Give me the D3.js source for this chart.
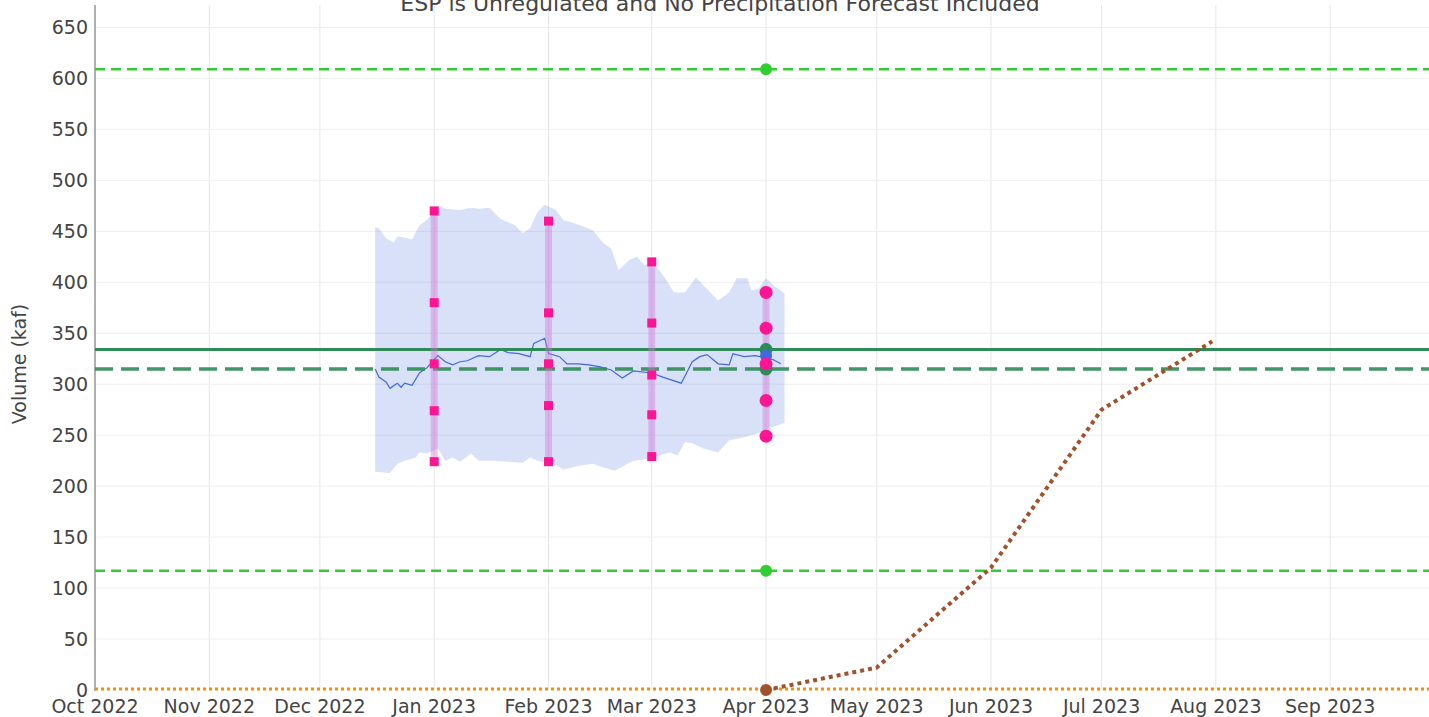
<!DOCTYPE html>
<html>
<head>
<meta charset="utf-8">
<script src="https://cdn.jsdelivr.net/npm/d3@7"></script>
<style>
  body { margin: 0; background: #fff; }
  #grafico { width: 1429px; height: 717px; overflow: hidden; }
  text { font-family: "DejaVu Sans", sans-serif; fill: #444; }
</style>
</head>
<body>
<div id="grafico"></div>
<script>
// textos
const titulo = "ESP is Unregulated and No Precipitation Forecast Included";
const etiquetaY = "Volume (kaf)";
const ticksY = [0, 50, 100, 150, 200, 250, 300, 350, 400, 450, 500, 550, 600, 650];

// banda ESP (limite superior)
const fechasSup = ["2022-12-16","2022-12-17","2022-12-19","2022-12-21","2022-12-22","2022-12-24","2022-12-26","2022-12-28","2022-12-30","2023-01-01","2023-01-02","2023-01-04","2023-01-08","2023-01-11","2023-01-13","2023-01-16","2023-01-19","2023-01-23","2023-01-25","2023-01-27","2023-01-29","2023-01-31","2023-02-03","2023-02-05","2023-02-08","2023-02-11","2023-02-13","2023-02-16","2023-02-18","2023-02-20","2023-02-23","2023-02-25","2023-02-27","2023-03-01","2023-03-03","2023-03-05","2023-03-07","2023-03-10","2023-03-13","2023-03-15","2023-03-19","2023-03-22","2023-03-24","2023-03-27","2023-03-28","2023-03-30","2023-04-01","2023-04-03","2023-04-06"];
const valoresSup = [454,453,443,439,445,444,442,456,461,470,475,472,471,473,472,473,462,456,448,453,469,476,471,461,458,454,451,438,433,412,422,425,417,420,412,402,390,390,405,397,382,390,404,404,392,394,404,397,389];

// banda ESP (limite inferior)
const fechasInf = ["2022-12-16","2022-12-20","2022-12-22","2022-12-24","2022-12-27","2022-12-28","2022-12-30","2023-01-02","2023-01-04","2023-01-06","2023-01-08","2023-01-11","2023-01-13","2023-01-17","2023-01-21","2023-01-25","2023-01-27","2023-01-29","2023-02-03","2023-02-05","2023-02-08","2023-02-11","2023-02-13","2023-02-16","2023-02-19","2023-02-21","2023-02-24","2023-03-01","2023-03-03","2023-03-06","2023-03-08","2023-03-10","2023-03-12","2023-03-15","2023-03-19","2023-03-22","2023-03-26","2023-03-30","2023-04-02","2023-04-06"];
const valoresInf = [214,213,222,225,228,233,232,237,225,228,224,232,225,225,224,223,228,225,221,216,219,221,222,218,215,219,225,227,230,233,230,243,242,237,233,245,248,252,257,262];

// mediana ESP
const fechasMed = ["2022-12-16","2022-12-17","2022-12-19","2022-12-20","2022-12-22","2022-12-23","2022-12-24","2022-12-26","2022-12-28","2022-12-30","2023-01-02","2023-01-04","2023-01-06","2023-01-08","2023-01-10","2023-01-13","2023-01-16","2023-01-19","2023-01-21","2023-01-24","2023-01-27","2023-01-28","2023-01-31","2023-02-01","2023-02-04","2023-02-06","2023-02-09","2023-02-12","2023-02-15","2023-02-18","2023-02-21","2023-02-24","2023-03-01","2023-03-04","2023-03-09","2023-03-12","2023-03-14","2023-03-16","2023-03-19","2023-03-22","2023-03-23","2023-03-26","2023-03-29","2023-04-01","2023-04-03","2023-04-05"];
const valoresMed = [315,307,302,296,301,297,301,299,311,316,328,322,319,322,323,328,327,334,331,330,327,340,345,330,327,320,320,319,317,314,306,313,311,307,301,322,327,329,320,319,330,327,328,326,324,320];

// pronosticos mensuales (cuantiles)
const fechasPron = ["2023-01-01","2023-02-01","2023-03-01","2023-04-01"];
const cuantilesPron = [
  [470, 380, 320, 274, 224],
  [460, 370, 320, 279, 224],
  [420, 360, 309, 270, 229],
  [390, 355, 320, 284, 249]
];

// referencias horizontales
const limitesVerdes = [609, 117];
const promedio = 334;
const mediana = 315;
const fechaActual = "2023-04-01";
const valorActual = 328;

// acumulado historico
const fechasAcum = ["2023-04-01","2023-05-01","2023-06-01","2023-07-01","2023-07-31"];
const valoresAcum = [0, 22, 120, 275, 342];

const parse = d3.timeParse("%Y-%m-%d");

function dibujar() {
    const width = 1429, height = 717;
    const svg = d3.select("#grafico").append("svg")
        .attr("width", width)
        .attr("height", height);

    const x = d3.scaleTime()
        .domain([parse("2022-10-01"), parse("2023-10-01")])
        .range([95, 1440.8]);
    const y = d3.scaleLinear()
        .domain([0, 672])
        .range([690, 5]);

    // rejilla
    const meses = d3.timeMonth.range(parse("2022-10-01"), parse("2023-10-01"));
    svg.append("g").selectAll("line")
        .data(meses).enter().append("line")
        .attr("x1", d => x(d)).attr("x2", d => x(d))
        .attr("y1", 5).attr("y2", 690)
        .attr("stroke", "#e6e6e6").attr("stroke-width", 1);
    svg.append("g").selectAll("line")
        .data(ticksY.slice(1)).enter().append("line")
        .attr("x1", 95).attr("x2", width)
        .attr("y1", d => y(d)).attr("y2", d => y(d))
        .attr("stroke", "#eeeeee").attr("stroke-width", 1);

    // eje y
    svg.append("line")
        .attr("x1", 95).attr("x2", 95)
        .attr("y1", 5).attr("y2", 691)
        .attr("stroke", "#999").attr("stroke-width", 1.5);
    svg.append("g").selectAll("text")
        .data(ticksY).enter().append("text")
        .attr("x", 88).attr("y", d => y(d))
        .attr("dy", "0.36em")
        .attr("text-anchor", "end")
        .style("font-size", "19px")
        .text(d => d);

    // eje x
    svg.append("g").selectAll("text")
        .data(meses).enter().append("text")
        .attr("x", d => x(d)).attr("y", 713)
        .attr("text-anchor", "middle")
        .style("font-size", "19px")
        .text(d => d3.timeFormat("%b %Y")(d));

    svg.append("text")
        .attr("transform", "translate(26,364) rotate(-90)")
        .attr("text-anchor", "middle")
        .style("font-size", "19px")
        .text(etiquetaY);

    svg.append("text")
        .attr("x", 720).attr("y", 11)
        .attr("text-anchor", "middle")
        .style("font-size", "22px")
        .text(titulo);

    // banda
    const sup = fechasSup.map((f, i) => [x(parse(f)), y(valoresSup[i])]);
    const inf = fechasInf.map((f, i) => [x(parse(f)), y(valoresInf[i])]);
    svg.append("path")
        .attr("d", d3.line()(sup.concat(inf.reverse())) + "Z")
        .attr("fill", "#4169e1").attr("fill-opacity", 0.2);

    svg.append("path")
        .datum(fechasMed.map((f, i) => ({ f: parse(f), v: valoresMed[i] })))
        .attr("d", d3.line().x(d => x(d.f)).y(d => y(d.v)))
        .attr("fill", "none").attr("stroke", "#4169e1").attr("stroke-width", 1.2);

    // lineas de referencia
    const hasta = x.range()[1];
    svg.append("g").selectAll("line")
        .data(limitesVerdes).enter().append("line")
        .attr("x1", 95).attr("x2", hasta)
        .attr("y1", d => y(d)).attr("y2", d => y(d))
        .attr("stroke", "#32cd32").attr("stroke-width", 2.5)
        .attr("stroke-dasharray", "10,6");
    svg.append("line")
        .attr("x1", 95).attr("x2", hasta)
        .attr("y1", y(promedio)).attr("y2", y(promedio))
        .attr("stroke", "#2e8b57").attr("stroke-width", 3);
    svg.append("line")
        .attr("x1", 95).attr("x2", hasta)
        .attr("y1", y(mediana)).attr("y2", y(mediana))
        .attr("stroke", "#2e8b57").attr("stroke-width", 3.5)
        .attr("stroke-dasharray", "18,8").attr("stroke-opacity", 0.9);

    // barras de pronostico
    svg.append("g").selectAll("rect")
        .data(fechasPron).enter().append("rect")
        .attr("x", d => x(parse(d)) - 3.5)
        .attr("y", (d, i) => y(d3.max(cuantilesPron[i])))
        .attr("width", 7)
        .attr("height", (d, i) => y(d3.min(cuantilesPron[i])) - y(d3.max(cuantilesPron[i])))
        .attr("fill", "#da70d6").attr("fill-opacity", 0.4);

    // acumulado
    svg.append("line")
        .attr("x1", 95).attr("x2", hasta)
        .attr("y1", y(0) - 1).attr("y2", y(0) - 1)
        .attr("stroke", "#ff8c00").attr("stroke-width", 3)
        .attr("stroke-dasharray", "3,3");
    svg.append("path")
        .datum(fechasAcum.map((f, i) => ({ f: parse(f), v: valoresAcum[i] })))
        .attr("d", d3.line().x(d => x(d.f)).y(d => y(d.v)))
        .attr("fill", "none").attr("stroke", "#a0522d").attr("stroke-width", 4)
        .attr("stroke-dasharray", "4,4");

    // puntos en la fecha actual
    const xa = x(parse(fechaActual));
    svg.append("g").selectAll("circle")
        .data(limitesVerdes).enter().append("circle")
        .attr("cx", xa).attr("cy", d => y(d)).attr("r", 6)
        .attr("fill", "#32cd32");
    svg.append("g").selectAll("circle")
        .data([promedio, mediana]).enter().append("circle")
        .attr("cx", xa).attr("cy", d => y(d)).attr("r", 6.5)
        .attr("fill", "#2e8b57");
    svg.append("circle")
        .attr("cx", xa).attr("cy", y(valorActual)).attr("r", 6)
        .attr("fill", "#4169e1");
    svg.append("circle")
        .attr("cx", xa).attr("cy", y(0)).attr("r", 6)
        .attr("fill", "#a0522d");

    // cuantiles: cuadrados para ene-mar, circulos para abril
    fechasPron.forEach((f, i) => {
        const xp = x(parse(f));
        const g = svg.append("g");
        if (i < 3) {
            g.selectAll("rect").data(cuantilesPron[i]).enter().append("rect")
                .attr("x", xp - 4.5).attr("y", d => y(d) - 4.5)
                .attr("width", 9).attr("height", 9)
                .attr("fill", "#ff1493");
        } else {
            g.selectAll("circle").data(cuantilesPron[i]).enter().append("circle")
                .attr("cx", xp).attr("cy", d => y(d)).attr("r", 6.5)
                .attr("fill", "#ff1493");
        }
    });
}

dibujar();
</script>
</body>
</html>
